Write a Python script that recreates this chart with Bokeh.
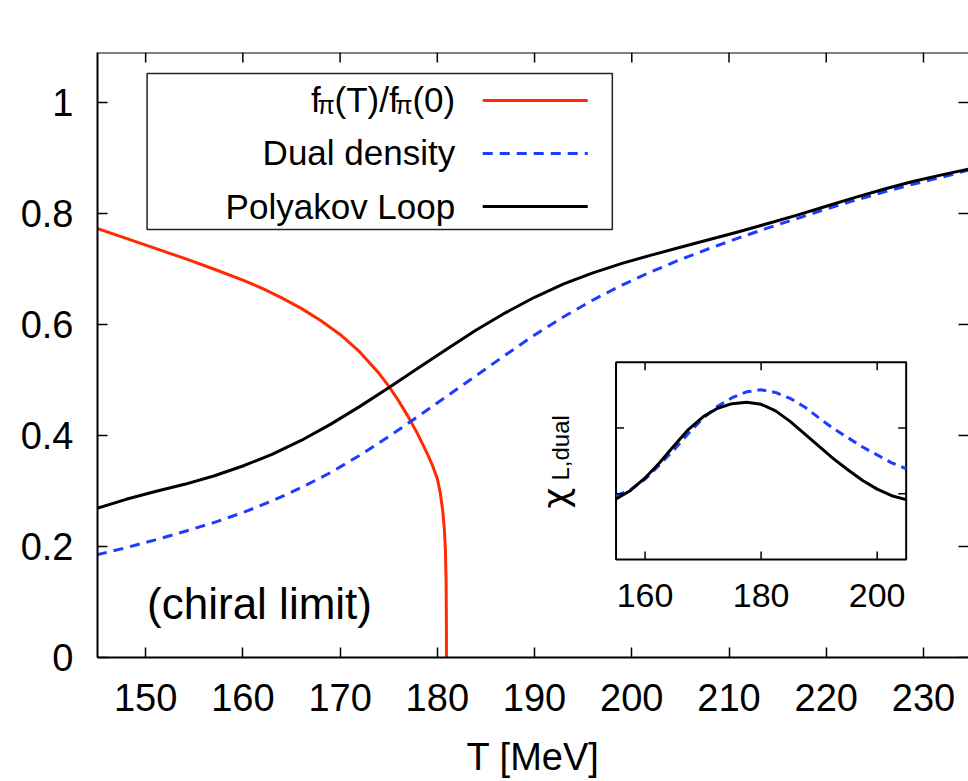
import numpy as np
from bokeh.plotting import figure
from bokeh.models import Range1d, FixedTicker, Label, BoxAnnotation, Arrow, Span
from bokeh.core.properties import value
from bokeh.embed import file_html
from bokeh.resources import INLINE

# ---------------- data ----------------
x_ticks = [150, 160, 170, 180, 190, 200, 210, 220, 230]
x_tick_labels = ["150", "160", "170", "180", "190", "200", "210", "220", "230"]
y_ticks = [0, 0.2, 0.4, 0.6, 0.8, 1.0]
y_tick_labels = ["0", "0.2", "0.4", "0.6", "0.8", "1"]

# f_pi(T)/f_pi(0)
T_fpi = [145, 148, 151, 154, 157, 160, 162, 164, 166, 168, 170, 172, 174, 175, 176,
         177, 178, 179, 179.5, 180.0, 180.3, 180.55, 180.72, 180.83, 180.9, 180.93, 180.94]
fpi = [0.773, 0.755, 0.737, 0.719, 0.700, 0.680, 0.665, 0.648, 0.629, 0.607, 0.582,
       0.551, 0.512, 0.489, 0.463, 0.434, 0.402, 0.366, 0.346, 0.322, 0.297, 0.265,
       0.232, 0.195, 0.140, 0.070, 0.0]

# Dual density
T_dual = [145, 148, 151, 154, 157, 160, 163, 166, 169, 172, 175, 178, 181, 184, 187,
          190, 193, 196, 199, 202, 205, 208, 211, 214, 217, 220, 223, 226, 229, 232, 234.63]
dual = [0.185, 0.198, 0.212, 0.227, 0.243, 0.261, 0.282, 0.306, 0.333, 0.364, 0.398,
        0.434, 0.471, 0.508, 0.545, 0.581, 0.614, 0.644, 0.671, 0.695, 0.717, 0.737,
        0.756, 0.774, 0.791, 0.808, 0.824, 0.839, 0.853, 0.866, 0.878]

# Polyakov loop
T_pl = [145, 148, 151, 154, 157, 160, 163, 166, 169, 172, 175, 178, 181, 184, 187,
        190, 193, 196, 199, 202, 205, 208, 211, 214, 217, 220, 223, 226, 229, 232, 234.63]
pl = [0.269, 0.285, 0.299, 0.312, 0.327, 0.345, 0.366, 0.391, 0.420, 0.452, 0.486,
      0.521, 0.556, 0.590, 0.621, 0.649, 0.673, 0.693, 0.710, 0.725, 0.739, 0.753,
      0.767, 0.782, 0.797, 0.813, 0.829, 0.844, 0.858, 0.870, 0.880]

# inset: susceptibilities (arbitrary units)
inset_x_ticks = [160, 180, 200]
inset_x_tick_labels = ["160", "180", "200"]
inset_y_ticks = [1, 2]
T_ins = [155, 157.5, 160, 162.5, 165, 167.5, 170, 172.5, 175, 177.5, 180, 182.5, 185,
         187.5, 190, 192.5, 195, 197.5, 200, 202.5, 205]
chi_L = [0.92, 1.05, 1.24, 1.47, 1.73, 1.98, 2.17, 2.30, 2.37, 2.39, 2.36, 2.26, 2.10,
         1.91, 1.72, 1.53, 1.36, 1.20, 1.07, 0.97, 0.91]
chi_dual = [0.97, 1.06, 1.22, 1.44, 1.67, 1.92, 2.15, 2.33, 2.46, 2.55, 2.58, 2.54, 2.45,
            2.32, 2.15, 1.99, 1.85, 1.71, 1.59, 1.47, 1.38]

# ---------------- style ----------------
FONT = "Liberation Sans"
RED = "#ff2a00"
BLUE = "#1c3cff"
X0, X1 = 145.05, 234.63
Y0, Y1 = 0.0, 1.09
PX_X = 871 / (X1 - X0)      # pixels per MeV
PX_Y = 605 / (Y1 - Y0)      # pixels per unit

p = figure(width=968, height=781, output_backend="svg", toolbar_location=None,
           x_range=Range1d(X0, X1), y_range=Range1d(Y0, Y1),
           min_border_left=97, min_border_top=52, min_border_bottom=124,
           min_border_right=0)
p.outline_line_color = None
p.xgrid.visible = False
p.ygrid.visible = False
p.background_fill_color = "white"
p.border_fill_color = "white"

# axes
for ax in (p.xaxis[0], p.yaxis[0]):
    ax.major_tick_in = 10
    ax.major_tick_out = 0
    ax.minor_tick_line_color = None
    ax.axis_line_width = 2
    ax.axis_line_color = "black"
    ax.major_tick_line_width = 1.5
    ax.major_tick_line_color = "black"
    ax.major_label_text_font = FONT
    ax.major_label_text_font_size = "38px"
    ax.major_label_text_color = "black"

xa = p.xaxis[0]
xa.ticker = FixedTicker(ticks=x_ticks)
xa.major_label_overrides = dict(zip(x_ticks, x_tick_labels))
xa.major_label_standoff = 26
xa.axis_label = "T [MeV]"
xa.axis_label_text_font = FONT
xa.axis_label_text_font_size = "38px"
xa.axis_label_text_font_style = "normal"
xa.axis_label_text_color = "black"
xa.axis_label_standoff = 22

ya = p.yaxis[0]
ya.ticker = FixedTicker(ticks=y_ticks)
ya.major_label_overrides = dict(zip(y_ticks, y_tick_labels))
ya.major_label_standoff = 24

# mirrored ticks (top and right) and top border
p.segment(x0=x_ticks, y0=[Y1] * len(x_ticks), x1=x_ticks,
          y1=[Y1 - 10 / PX_Y] * len(x_ticks), line_color="black", line_width=1.5)
p.segment(x0=[X1 - 10 / PX_X] * len(y_ticks), y0=y_ticks, x1=[X1] * len(y_ticks),
          y1=y_ticks, line_color="black", line_width=1.5)
p.add_layout(Span(location=Y1, dimension="width", line_color="black", line_width=2))

# main curves
p.line(T_fpi, fpi, line_color=RED, line_width=3, line_join="round")
p.line(T_dual, dual, line_color=BLUE, line_width=3, line_dash="10 7")
p.line(T_pl, pl, line_color="black", line_width=3, line_join="round")

# chiral limit label
p.add_layout(Label(x=150.15, y=0.074 + 13 / PX_Y, text="(chiral limit)", text_font=FONT,
                   text_font_size="44px", text_color="black",
                   text_align="left", text_baseline="alphabetic"))

# ---------------- legend (text left, sample right) ----------------
p.add_layout(BoxAnnotation(left=150.15, right=198.0, bottom=0.7712, top=1.0523,
                           fill_color="white", fill_alpha=1.0,
                           line_color="#222222", line_alpha=1.0, line_width=1.5,
                           level="glyph"))
LX = 181.84
SHIFT = 11 / PX_Y
rows_base = [0.9856 + SHIFT, 0.8895 + SHIFT, 0.7933 + SHIFT]
rows_line = [1.0036, 0.9081, 0.8126]


def lab(text, x, y, size, xoff=0, align="right"):
    p.add_layout(Label(x=x, y=y, x_offset=xoff, text=text, text_font=FONT,
                       text_font_size=size, text_color="black",
                       text_align=align, text_baseline="alphabetic"))


sub_y = rows_base[0] - 6 / PX_Y
lab("(0)", LX, rows_base[0], "35px", 0)
lab("π", LX, sub_y, "25px", -42.8)
lab("(T)/f", LX, rows_base[0], "35px", -56.5)
lab("π", LX, sub_y, "25px", -120.5)
lab("f", LX, rows_base[0], "35px", -134.5)
lab("Dual density", LX, rows_base[1], "35px")
lab("Polyakov Loop", LX, rows_base[2], "35px")

for yy, col, dash in zip(rows_line, [RED, BLUE, "black"], ["solid", "10 7", "solid"]):
    p.add_layout(Arrow(end=None, x_start=184.67, y_start=yy, x_end=195.47, y_end=yy,
                       line_color=col, line_width=3, line_dash=dash))

# ---------------- inset ----------------
IX0, IX1, IY0, IY1 = 155, 205, 0, 3
ins = p.subplot(x_source=Range1d(IX0, IX1), y_source=Range1d(IY0, IY1),
                x_target=Range1d(198.38, 228.22), y_target=Range1d(0.1766, 0.532))
ins.quad(left=[IX0], right=[IX1], bottom=[IY0], top=[IY1], fill_color="white",
         line_color="black", line_width=2)
ins.line(T_ins, chi_dual, line_color=BLUE, line_width=3, line_dash="9 6")
ins.line(T_ins, chi_L, line_color="black", line_width=3, line_join="round")

tx = 8 / 65.77
ty = 8 / 5.8
n = len(inset_x_ticks)
ins.segment(x0=inset_x_ticks, y0=[IY0] * n, x1=inset_x_ticks, y1=[IY0 + tx] * n,
            line_color="black", line_width=1.5)
ins.segment(x0=inset_x_ticks, y0=[IY1] * n, x1=inset_x_ticks, y1=[IY1 - tx] * n,
            line_color="black", line_width=1.5)
m = len(inset_y_ticks)
ins.segment(x0=[IX0] * m, y0=inset_y_ticks, x1=[IX0 + ty] * m, y1=inset_y_ticks,
            line_color="black", line_width=1.5)
ins.segment(x0=[IX1] * m, y0=inset_y_ticks, x1=[IX1 - ty] * m, y1=inset_y_ticks,
            line_color="black", line_width=1.5)
ins.text(x=inset_x_ticks, y=[-0.547] * n, text=inset_x_tick_labels,
         text_font=value(FONT), text_font_size="34px", text_color="black",
         text_align="center", text_baseline="middle")

# inset y label: chi_{L,dual}
p.add_layout(Label(x=192.2, y=0.2684, text="χ", angle=np.pi / 2, text_font="DejaVu Sans",
                   text_font_size="36px", text_color="black", text_align="left",
                   text_baseline="alphabetic"))
p.add_layout(Label(x=192.7, y=0.3189, text="L,dual", angle=np.pi / 2, text_font=FONT,
                   text_font_size="24px", text_color="black", text_align="left",
                   text_baseline="alphabetic"))

open("out.html", "w").write(file_html(p, INLINE))
